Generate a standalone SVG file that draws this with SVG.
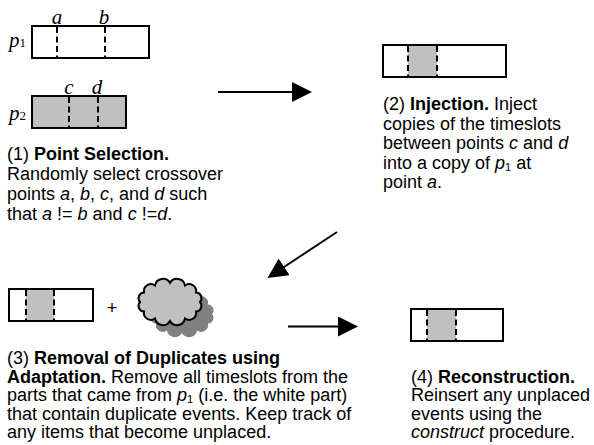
<svg xmlns="http://www.w3.org/2000/svg" width="594" height="445" viewBox="0 0 594 445">
<defs>
<style>
.box{fill:none;stroke:#000;stroke-width:2}
.gray{fill:#c0c0c0;stroke:none}
.dash{stroke:#000;stroke-width:2;stroke-dasharray:6 3.5}
.t{font-family:"Liberation Sans",Arial,sans-serif;font-size:18px;fill:#000}
.lbl{font-family:"Liberation Serif","Times New Roman",serif;font-size:21px;font-style:italic;fill:#000}
.sub{font-family:"Liberation Serif","Times New Roman",serif;font-size:13px;font-style:normal}
.b{font-weight:bold}
.i{font-style:italic}
.s{font-size:11px;font-style:normal}
.conn{stroke:#000;stroke-width:2;fill:none}
</style>
<marker id="ah" markerUnits="userSpaceOnUse" markerWidth="20" markerHeight="20" refX="2" refY="10" orient="auto">
<path d="M0,0 L20,10 L0,20 Z" fill="#000"/>
</marker>
<path id="cloud" d="M140 302 A5.7 5.7 0 0 1 144 292.5 A7 7 0 0 1 155 285.5 A8.1 8.1 0 0 1 170 283 A8.1 8.1 0 0 1 185 285.5 A7 7 0 0 1 196 292.5 A5.7 5.7 0 0 1 200 302 A5.7 5.7 0 0 1 196 311.5 A7 7 0 0 1 185 318.5 A8.1 8.1 0 0 1 170 321 A8.1 8.1 0 0 1 155 318.5 A7 7 0 0 1 144 311.5 A5.7 5.7 0 0 1 140 302 Z"/>
</defs>
<rect width="594" height="445" fill="#fff"/>

<g id="step1">
<rect x="32" y="26" width="117" height="32" fill="#fff"/>
<line class="dash" x1="57" y1="27" x2="57" y2="57"/>
<line class="dash" x1="105" y1="27" x2="105" y2="57"/>
<rect class="box" x="32" y="26" width="117" height="32"/>
<text class="lbl" x="57" y="24" text-anchor="middle">a</text>
<text class="lbl" x="104" y="24" text-anchor="middle">b</text>
<text class="lbl" x="9" y="47">p<tspan class="sub">1</tspan></text>
<rect class="gray" x="32" y="96" width="94" height="32"/>
<line class="dash" x1="69" y1="97" x2="69" y2="127"/>
<line class="dash" x1="98" y1="97" x2="98" y2="127"/>
<rect class="box" x="32" y="96" width="94" height="32"/>
<text class="lbl" x="69" y="94" text-anchor="middle">c</text>
<text class="lbl" x="97" y="94" text-anchor="middle">d</text>
<text class="lbl" x="9" y="120">p<tspan class="sub">2</tspan></text>
<text class="t" x="7" y="160">(1) <tspan class="b">Point Selection.</tspan></text>
<text class="t" x="7" y="180">Randomly select crossover</text>
<text class="t" x="7" y="200">points <tspan class="i">a</tspan>, <tspan class="i">b</tspan>, <tspan class="i">c</tspan>, and <tspan class="i">d</tspan> such</text>
<text class="t" x="7" y="220">that <tspan class="i">a</tspan> != <tspan class="i">b</tspan> and <tspan class="i">c</tspan> !=<tspan class="i">d</tspan>.</text>
</g>

<g id="step2">
<rect class="gray" x="408" y="45" width="29" height="32"/>
<line class="dash" x1="408" y1="46" x2="408" y2="76"/>
<line class="dash" x1="437" y1="46" x2="437" y2="76"/>
<rect class="box" x="383" y="45" width="123" height="32"/>
<text class="t" x="383" y="110">(2) <tspan class="b">Injection.</tspan> Inject</text>
<text class="t" x="383" y="129.5">copies of the timeslots</text>
<text class="t" x="383" y="149">between points <tspan class="i">c</tspan> and <tspan class="i">d</tspan></text>
<text class="t" x="383" y="168.5">into a copy of <tspan class="i">p</tspan><tspan class="s" dy="2">1</tspan><tspan dy="-2"> at</tspan></text>
<text class="t" x="383" y="188">point <tspan class="i">a</tspan>.</text>
</g>

<g id="step3">
<rect class="gray" x="26" y="289" width="28" height="32"/>
<line class="dash" x1="26" y1="290" x2="26" y2="320"/>
<line class="dash" x1="54" y1="290" x2="54" y2="320"/>
<rect class="box" x="9" y="289" width="84" height="32"/>
<text class="t" x="112" y="314" text-anchor="middle">+</text>
<use href="#cloud" transform="translate(12,12)" fill="#808080"/>
<use href="#cloud" fill="#c0c0c0" stroke="#000" stroke-width="2"/>
<text class="t" x="7" y="364">(3) <tspan class="b">Removal of Duplicates using</tspan></text>
<text class="t" x="7" y="382.5"><tspan class="b">Adaptation.</tspan> Remove all timeslots from the</text>
<text class="t" x="7" y="401">parts that came from <tspan class="i">p</tspan><tspan class="s" dy="2">1</tspan><tspan dy="-2"> (i.e. the white part)</tspan></text>
<text class="t" x="7" y="419.5">that contain duplicate events. Keep track of</text>
<text class="t" x="7" y="438">any items that become unplaced.</text>
</g>

<g id="step4">
<rect class="gray" x="427" y="309" width="29" height="32"/>
<line class="dash" x1="427" y1="310" x2="427" y2="340"/>
<line class="dash" x1="456" y1="310" x2="456" y2="340"/>
<rect class="box" x="411" y="309" width="92" height="32"/>
<text class="t" x="411" y="382.5">(4) <tspan class="b">Reconstruction.</tspan></text>
<text class="t" x="411" y="401">Reinsert any unplaced</text>
<text class="t" x="411" y="419.5">events using the</text>
<text class="t" x="411" y="438"><tspan class="i">construct</tspan> procedure.</text>
</g>

<g id="connectors">
<line class="conn" x1="218" y1="92" x2="294" y2="92" marker-end="url(#ah)"/>
<line class="conn" x1="337" y1="232" x2="282.5" y2="268" marker-end="url(#ah)"/>
<line class="conn" x1="288" y1="326.5" x2="340" y2="326.5" marker-end="url(#ah)"/>
</g>
</svg>
